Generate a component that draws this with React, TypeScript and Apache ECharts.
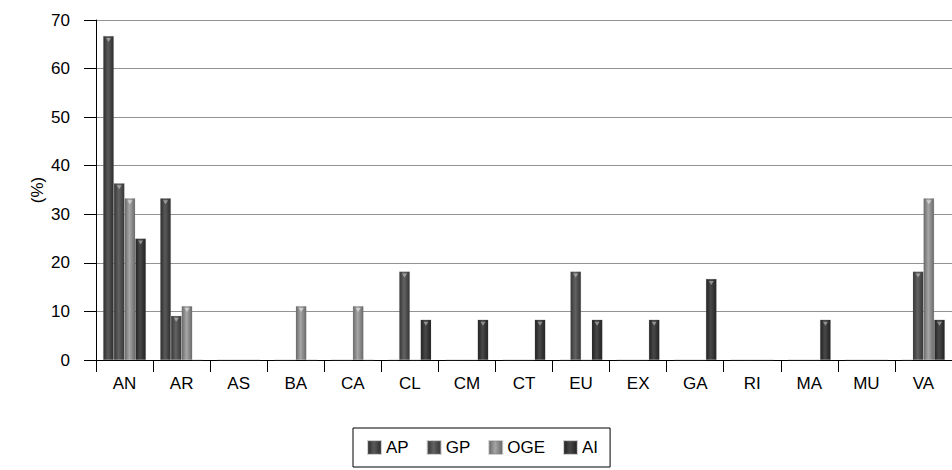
import React, { useEffect, useRef } from "react";
import * as echarts from "echarts";

const categories = ["AN", "AR", "AS", "BA", "CA", "CL", "CM", "CT", "EU", "EX", "GA", "RI", "MA", "MU", "VA"];
const seriesNames = ["AP", "GP", "OGE", "AI"];
const apValues = [66.7, 33.3, 0, 0, 0, 0, 0, 0, 0, 0, 0, 0, 0, 0, 0];
const gpValues = [36.4, 9.1, 0, 0, 0, 18.2, 0, 0, 18.2, 0, 0, 0, 0, 0, 18.2];
const ogeValues = [33.3, 11.1, 0, 11.1, 11.1, 0, 0, 0, 0, 0, 0, 0, 0, 0, 33.3];
const aiValues = [25, 0, 0, 0, 0, 8.3, 8.3, 8.3, 8.3, 8.3, 16.7, 0, 8.3, 0, 8.3];
const yTicks = [0, 10, 20, 30, 40, 50, 60, 70];

const FONT = "'Liberation Sans', Arial, Helvetica, sans-serif";
const FONT_SIZE = 17;

// cylinder-like shading: dark edges, lighter middle
function shade(edge: string, mid: string) {
  return new echarts.graphic.LinearGradient(0, 0, 1, 0, [
    { offset: 0, color: edge },
    { offset: 0.45, color: mid },
    { offset: 1, color: edge },
  ]);
}

const shades = [
  shade("#2c2c2c", "#5a5a5a"),
  shade("#363636", "#626262"),
  shade("#6a6a6a", "#a6a6a6"),
  shade("#222222", "#484848"),
];
const capColors = ["#9a9a9a", "#a0a0a0", "#d0d0d0", "#909090"];

export default function App() {
  const ref = useRef<HTMLDivElement>(null);

  useEffect(() => {
    if (!ref.current) return;
    const chart = echarts.init(ref.current, undefined, { renderer: "svg" });
    const values = [apValues, gpValues, ogeValues, aiValues];
    chart.setOption({
      animation: false,
      backgroundColor: "#ffffff",
      textStyle: { fontFamily: FONT },
      grid: { left: 96, right: -1, top: 20, bottom: 110, containLabel: false },
      legend: {
        data: seriesNames,
        left: 353,
        top: 428,
        orient: "horizontal",
        padding: [11, 12, 11, 14],
        itemGap: 18,
        itemWidth: 13,
        itemHeight: 13,
        icon: "rect",
        borderColor: "#000000",
        borderWidth: 1,
        backgroundColor: "#ffffff",
        textStyle: { fontSize: FONT_SIZE, color: "#000000", fontFamily: FONT },
      },
      xAxis: {
        type: "category",
        data: categories,
        axisLine: { lineStyle: { color: "#000000", width: 1 } },
        axisTick: { show: true, length: 12, lineStyle: { color: "#000000" } },
        axisLabel: { fontSize: FONT_SIZE, color: "#000000", margin: 15, fontFamily: FONT, interval: 0 },
        splitLine: { show: false },
      },
      yAxis: {
        type: "value",
        min: yTicks[0],
        max: yTicks[yTicks.length - 1],
        interval: 10,
        name: "(%)",
        nameLocation: "middle",
        nameGap: 50,
        nameRotate: 90,
        nameMoveOverlap: false,
        nameTextStyle: { fontSize: FONT_SIZE, color: "#000000", fontFamily: FONT },
        axisLine: { show: true, lineStyle: { color: "#000000", width: 1 } },
        axisTick: { show: true, length: 12, lineStyle: { color: "#000000" } },
        axisLabel: { fontSize: FONT_SIZE, color: "#000000", margin: 26, fontFamily: FONT },
        splitLine: { show: true, lineStyle: { color: "#939393", width: 1 } },
      },
      series: seriesNames.map((name, i) => ({
        name,
        type: "bar",
        data: values[i],
        barGap: "0%",
        barCategoryGap: "25%",
        itemStyle: {
          color: shades[i],
          borderColor: "rgba(120,120,120,0.35)",
          borderWidth: 0.5,
        },
        emphasis: { disabled: true },
        // small bevel notch at the top of each bar
        markPoint: {
          silent: true,
          symbol: "triangle",
          symbolRotate: 180,
          symbolSize: [5, 4],
          symbolOffset: [0, 4],
          itemStyle: { color: capColors[i] },
          label: { show: false },
          data: values[i]
            .map((v, idx) => ({ coord: [idx, v], v }))
            .filter((d) => d.v > 0)
            .map((d) => ({ coord: d.coord })),
        },
      })),
    });
    return () => chart.dispose();
  }, []);

  return (
    <div
      ref={ref}
      style={{ position: "absolute", left: 0, top: 0, width: 952, height: 470 }}
    />
  );
}
